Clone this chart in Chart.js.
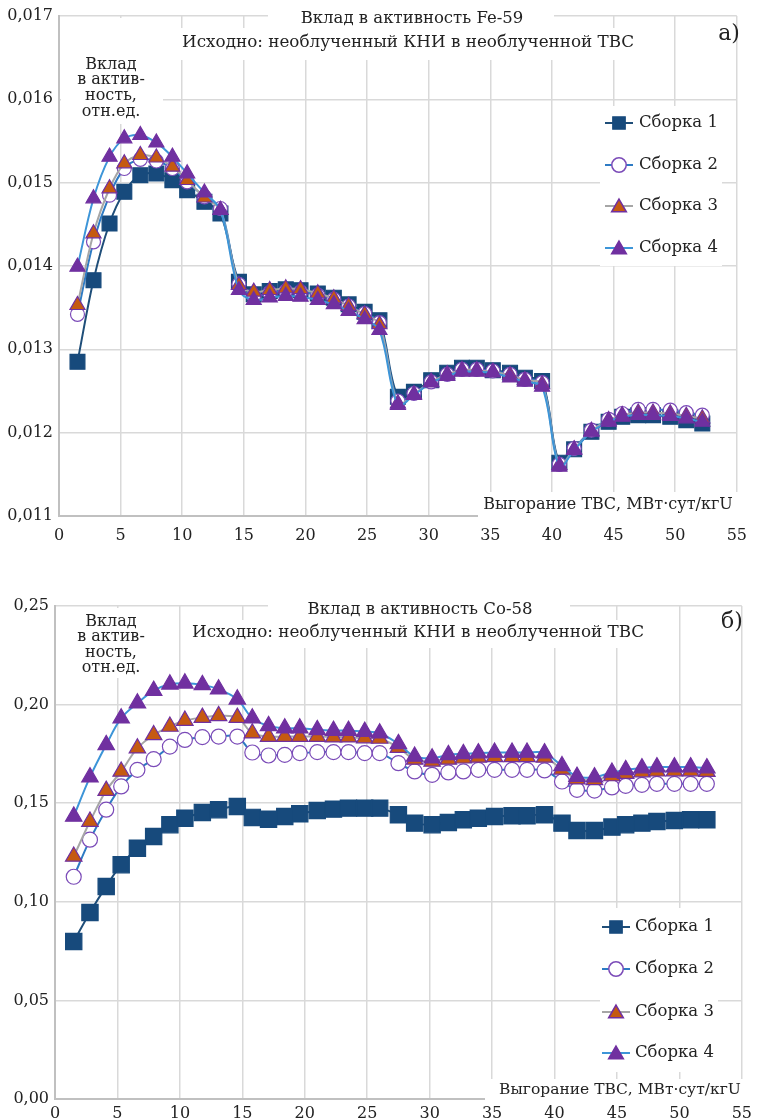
<!DOCTYPE html>
<html>
<head>
<meta charset="utf-8">
<script src="https://cdn.jsdelivr.net/npm/chart.js@4.4.0/dist/chart.umd.min.js"></script>
<style>
  body { margin: 0; background: #fff; width: 757px; height: 1119px; overflow: hidden; position: relative; }
  canvas { position: absolute; left: 0; }
  #fe { top: 0; }
  #co { top: 560px; }
</style>
</head>
<body>
<canvas id="fe" width="757" height="550"></canvas>
<canvas id="co" width="757" height="559"></canvas>
<script>
// burnup points, MWd/kgU (same for both panels)
const burnup = [1.5, 2.8, 4.1, 5.3, 6.6, 7.9, 9.2, 10.4, 11.8, 13.1,
  14.6, 15.8, 17.1, 18.4, 19.6, 21.0, 22.3, 23.5, 24.8, 26.0,
  27.5, 28.8, 30.2, 31.5, 32.7, 33.9, 35.2, 36.6, 37.8, 39.2,
  40.6, 41.8, 43.2, 44.6, 45.7, 47.0, 48.2, 49.6, 50.9, 52.2];

const seriesNames = ["Сборка 1", "Сборка 2", "Сборка 3", "Сборка 4"];

// Fe-59
const fe1 = [0.01285, 0.01383, 0.01451, 0.01489, 0.01509, 0.01511, 0.01503, 0.01491, 0.01477, 0.01463,
  0.01381, 0.01366, 0.01370, 0.01372, 0.01371, 0.01367, 0.01362, 0.01354, 0.01345, 0.01335,
  0.01243, 0.01249, 0.01263, 0.01272, 0.01278, 0.01278, 0.01275, 0.01272, 0.01266, 0.01262,
  0.01164, 0.01180, 0.01201, 0.01213, 0.01219, 0.01221, 0.01221, 0.01219, 0.01215, 0.01211];
const fe2 = [0.01342, 0.01429, 0.01485, 0.01517, 0.01528, 0.01526, 0.01517, 0.01501, 0.01483, 0.01469,
  0.01378, 0.01364, 0.01368, 0.01370, 0.01369, 0.01365, 0.01360, 0.01352, 0.01343, 0.01332,
  0.01238, 0.01247, 0.01261, 0.01270, 0.01276, 0.01276, 0.01274, 0.01270, 0.01264, 0.01260,
  0.01162, 0.01181, 0.01203, 0.01216, 0.01223, 0.01228, 0.01228, 0.01227, 0.01224, 0.01221];
const fe3 = [0.01353, 0.01439, 0.01493, 0.01523, 0.01533, 0.01530, 0.01519, 0.01503, 0.01482, 0.01467,
  0.01377, 0.01369, 0.01371, 0.01373, 0.01372, 0.01367, 0.01361, 0.01352, 0.01342, 0.01330,
  0.01235, 0.01246, 0.01261, 0.01270, 0.01275, 0.01275, 0.01273, 0.01269, 0.01263, 0.01258,
  0.01161, 0.01180, 0.01202, 0.01215, 0.01221, 0.01224, 0.01224, 0.01223, 0.01220, 0.01217];
const fe4 = [0.01399, 0.01481, 0.01531, 0.01553, 0.01557, 0.01548, 0.01531, 0.01511, 0.01488, 0.01467,
  0.01371, 0.01359, 0.01362, 0.01364, 0.01363, 0.01359, 0.01354, 0.01346, 0.01336, 0.01323,
  0.01233, 0.01245, 0.01260, 0.01268, 0.01273, 0.01273, 0.01272, 0.01266, 0.01261, 0.01255,
  0.01159, 0.01179, 0.01201, 0.01213, 0.01219, 0.01221, 0.01221, 0.01220, 0.01217, 0.01213];

// Co-58
const co1 = [0.0799, 0.0946, 0.1078, 0.1188, 0.1272, 0.1331, 0.1391, 0.1424, 0.1453, 0.1467,
  0.1483, 0.1428, 0.1419, 0.1433, 0.1446, 0.1463, 0.1470, 0.1475, 0.1475, 0.1475,
  0.1441, 0.1399, 0.1391, 0.1402, 0.1416, 0.1424, 0.1433, 0.1436, 0.1436, 0.1441,
  0.1399, 0.1362, 0.1362, 0.1379, 0.1391, 0.1399, 0.1407, 0.1412, 0.1416, 0.1416];
const co2 = [0.1127, 0.1315, 0.1467, 0.1585, 0.1669, 0.1723, 0.1787, 0.1821, 0.1835, 0.1838,
  0.1838, 0.1757, 0.1742, 0.1745, 0.1754, 0.1759, 0.1759, 0.1759, 0.1754, 0.1754,
  0.1703, 0.1661, 0.1644, 0.1656, 0.1661, 0.1669, 0.1669, 0.1669, 0.1669, 0.1666,
  0.1610, 0.1568, 0.1564, 0.1580, 0.1588, 0.1593, 0.1598, 0.1598, 0.1598, 0.1598];
const co3 = [0.1230, 0.1407, 0.1564, 0.1661, 0.1779, 0.1846, 0.1889, 0.1919, 0.1934, 0.1943,
  0.1934, 0.1855, 0.1838, 0.1838, 0.1838, 0.1838, 0.1835, 0.1835, 0.1830, 0.1828,
  0.1782, 0.1722, 0.1712, 0.1722, 0.1728, 0.1732, 0.1735, 0.1735, 0.1735, 0.1732,
  0.1672, 0.1622, 0.1618, 0.1638, 0.1650, 0.1658, 0.1662, 0.1663, 0.1663, 0.1660];
const co4 = [0.1433, 0.1632, 0.1796, 0.1931, 0.2007, 0.2071, 0.2103, 0.2108, 0.2100, 0.2078,
  0.2027, 0.1931, 0.1892, 0.1880, 0.1880, 0.1872, 0.1868, 0.1868, 0.1863, 0.1855,
  0.1801, 0.1737, 0.1728, 0.1745, 0.1750, 0.1754, 0.1757, 0.1757, 0.1757, 0.1754,
  0.1689, 0.1635, 0.1632, 0.1656, 0.1669, 0.1678, 0.1683, 0.1683, 0.1683, 0.1678];

const xTicks = [0, 5, 10, 15, 20, 25, 30, 35, 40, 45, 50, 55];

const FONT = "'DejaVu Serif', serif";
const TXT = "#222";

const looks = [
  { line: "#1f4e79", fill: "#174a7c", border: "#174a7c", shape: "rect" },
  { line: "#2e7bc4", fill: "#ffffff", border: "#7b4bb8", shape: "circle" },
  { line: "#a6a6a6", fill: "#c55a11", border: "#7030a0", shape: "triangle" },
  { line: "#3d95d8", fill: "#7030a0", border: "#7030a0", shape: "triangle" }
];

function drawMarker(ctx, shape, x, y, r, lk) {
  ctx.beginPath();
  if (shape === "rect") {
    const s = r * 0.72;
    ctx.rect(x - s, y - s, 2 * s, 2 * s);
  } else if (shape === "circle") {
    ctx.arc(x, y, r * 0.85, 0, Math.PI * 2);
  } else {
    ctx.moveTo(x, y - r);
    ctx.lineTo(x + 0.866 * r, y + 0.5 * r);
    ctx.lineTo(x - 0.866 * r, y + 0.5 * r);
    ctx.closePath();
  }
  ctx.fillStyle = lk.fill;
  ctx.fill();
  ctx.lineWidth = 1.5;
  ctx.strokeStyle = lk.border;
  ctx.stroke();
}

// white boxes, titles, axis captions and the legend, drawn over the grid
function decor(d) {
  return {
    id: "decor",
    beforeDatasetsDraw(chart) {
      const ctx = chart.ctx;
      ctx.save();
      ctx.fillStyle = "#fff";
      d.boxes.forEach(b => ctx.fillRect(b[0], b[1], b[2], b[3]));
      ctx.textBaseline = "middle";
      d.texts.forEach(t => {
        ctx.font = t.size + "px " + FONT;
        ctx.textAlign = t.align || "center";
        ctx.fillStyle = TXT;
        ctx.fillText(t.s, t.x, t.y);
      });
      const lg = d.legend;
      seriesNames.forEach((name, i) => {
        const y = lg.ys[i];
        const lk = looks[i];
        ctx.strokeStyle = lk.line;
        ctx.lineWidth = 2;
        ctx.beginPath();
        ctx.moveTo(lg.x0, y);
        ctx.lineTo(lg.x1, y);
        ctx.stroke();
        drawMarker(ctx, lk.shape, (lg.x0 + lg.x1) / 2, y + (lk.shape === "triangle" ? 1.5 : 0), 8.5, lk);
        ctx.font = "16.5px " + FONT;
        ctx.textAlign = "left";
        ctx.fillStyle = TXT;
        ctx.fillText(name, lg.tx, y);
      });
      ctx.restore();
    }
  };
}

function makeChart(id, series, sizes, y, axis, d) {
  const datasets = series.map((vals, i) => ({
    label: seriesNames[i],
    data: burnup.map((x, k) => ({ x: x, y: vals[k] })),
    borderColor: looks[i].line,
    borderWidth: 2,
    backgroundColor: looks[i].fill,
    pointBackgroundColor: looks[i].fill,
    pointBorderColor: looks[i].border,
    pointBorderWidth: 1.2,
    pointStyle: looks[i].shape,
    pointRadius: sizes[i],
    tension: 0.35,
    order: 4 - i
  }));
  return new Chart(document.getElementById(id), {
    type: "line",
    data: { datasets: datasets },
    plugins: [decor(d)],
    options: {
      responsive: false,
      animation: false,
      devicePixelRatio: 1,
      layout: { padding: { top: axis.top, right: axis.right, left: 0, bottom: 0 } },
      plugins: { legend: { display: false }, tooltip: { enabled: false } },
      scales: {
        x: {
          type: "linear",
          min: 0, max: 55,
          afterBuildTicks: s => { s.ticks = xTicks.map(v => ({ value: v })); },
          afterFit: s => { s.height = axis.xh; },
          grid: { color: "#d9d9d9", lineWidth: 1.5, drawTicks: false },
          border: { color: "#c0c0c0", width: 2 },
          ticks: { padding: axis.xpad, color: TXT, font: { family: FONT, size: 16 }, maxRotation: 0 }
        },
        y: {
          min: y.min, max: y.max,
          afterBuildTicks: s => { s.ticks = y.ticks.map(v => ({ value: v })); },
          afterFit: s => { s.width = axis.yw; },
          grid: { color: "#d9d9d9", lineWidth: 1.5, drawTicks: false },
          border: { color: "#c0c0c0", width: 2 },
          ticks: {
            padding: 6, color: TXT, font: { family: FONT, size: 16 },
            callback: v => v.toFixed(y.dp).replace(".", ",")
          }
        }
      }
    }
  });
}

const feTicks = [0.011, 0.012, 0.013, 0.014, 0.015, 0.016, 0.017];
const coTicks = [0, 0.05, 0.10, 0.15, 0.20, 0.25];

makeChart("fe", [fe1, fe2, fe3, fe4], [10.5, 7, 8.7, 8.7],
  { min: 0.011, max: 0.017, ticks: feTicks, dp: 3 },
  { top: 16, right: 10, xh: 34, yw: 59, xpad: 10 },
  {
    boxes: [[268, 4, 286, 24], [180, 28, 458, 32], [61, 18, 102, 106], [478, 492, 267, 27], [600, 106, 122, 160]],
    texts: [
      { s: "Вклад в активность Fe-59", x: 412, y: 19, size: 16.5 },
      { s: "Исходно: необлученный КНИ в необлученной ТВС", x: 408, y: 43, size: 16.8 },
      { s: "а)", x: 729, y: 34, size: 22 },
      { s: "Вклад", x: 111, y: 65, size: 16 },
      { s: "в актив-", x: 111, y: 80, size: 16 },
      { s: "ность,", x: 111, y: 96, size: 16 },
      { s: "отн.ед.", x: 111, y: 112, size: 16 },
      { s: "Выгорание ТВС, МВт·сут/кгU", x: 608, y: 505, size: 16 }
    ],
    legend: { x0: 605, x1: 633, tx: 639, ys: [123, 165, 206, 248] }
  });

makeChart("co", [co1, co2, co3, co4], [11.5, 7.5, 9.5, 9.5],
  { min: 0, max: 0.25, ticks: coTicks, dp: 2 },
  { top: 46, right: 9, xh: 20, yw: 55, xpad: 5 },
  {
    boxes: [[268, 44, 302, 24], [188, 60, 462, 28], [57, 48, 106, 70], [485, 519, 260, 23], [600, 348, 118, 164]],
    texts: [
      { s: "Вклад в активность Co-58", x: 420, y: 50, size: 16.5 },
      { s: "Исходно: необлученный КНИ в необлученной ТВС", x: 418, y: 73, size: 16.8 },
      { s: "б)", x: 732, y: 62, size: 22 },
      { s: "Вклад", x: 111, y: 62, size: 16 },
      { s: "в актив-", x: 111, y: 77, size: 16 },
      { s: "ность,", x: 111, y: 93, size: 16 },
      { s: "отн.ед.", x: 111, y: 108, size: 16 },
      { s: "Выгорание ТВС, МВт·сут/кгU", x: 620, y: 530, size: 15.5 }
    ],
    legend: { x0: 602, x1: 630, tx: 635, ys: [367, 409, 452, 493] }
  });
</script>
</body>
</html>
